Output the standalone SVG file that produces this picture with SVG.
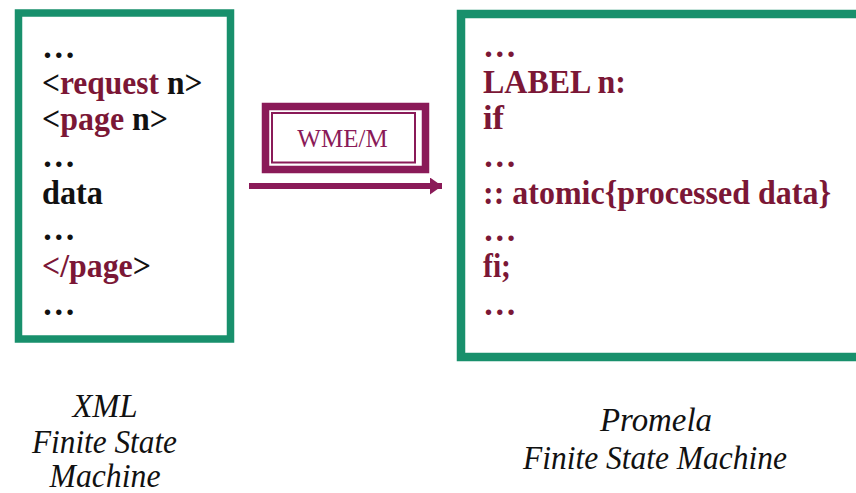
<svg xmlns="http://www.w3.org/2000/svg" width="856" height="493" viewBox="0 0 856 493">
  <defs>
    <style>
      .frame { fill: #ffffff; stroke: #18906c; }
      .code { font-family: "Liberation Serif", "Times New Roman", serif; font-weight: bold; font-size: 33.5px; fill: #111111; }
      .kw { fill: #7b1736; }
      .caption { font-family: "Liberation Serif", "Times New Roman", serif; font-style: italic; font-size: 34px; fill: #111111; text-anchor: middle; }
      .tool { fill: none; stroke: #8a1a58; }
      .toollabel { font-family: "Liberation Serif", "Times New Roman", serif; font-size: 25px; fill: #8a1a58; text-anchor: middle; }
    </style>
    <marker id="arrowhead" viewBox="0 0 12 17" refX="12" refY="8.5" markerUnits="userSpaceOnUse" markerWidth="12" markerHeight="17" orient="auto">
      <path d="M0,0 L12,8.5 L0,17 Z" fill="#8a1a58"/>
    </marker>
  </defs>

  <rect width="856" height="493" fill="#ffffff"/>

  <!-- XML state machine -->
  <g id="xml-fsm">
    <rect class="frame" x="18.5" y="13" width="212" height="326" stroke-width="7.5"/>
    <text class="code" x="42" y="58">…</text>
    <text class="code" transform="translate(42,94) scale(0.94,1)">&lt;<tspan class="kw">request</tspan> n&gt;</text>
    <text class="code" transform="translate(42,130) scale(0.953,1)">&lt;<tspan class="kw">page</tspan> n&gt;</text>
    <text class="code" x="42" y="167">…</text>
    <text class="code" x="42" y="204" textLength="61" lengthAdjust="spacingAndGlyphs">data</text>
    <text class="code" x="42" y="240">…</text>
    <text class="code" transform="translate(42,277) scale(0.952,1)"><tspan class="kw">&lt;/page</tspan>&gt;</text>
    <text class="code" x="42" y="315">…</text>
  </g>

  <!-- Promela state machine -->
  <g id="promela-fsm">
    <rect class="frame" x="461" y="14" width="420" height="343" stroke-width="8.5"/>
    <text class="code kw" x="483" y="57">…</text>
    <text class="code kw" x="483" y="93" textLength="143" lengthAdjust="spacingAndGlyphs">LABEL n:</text>
    <text class="code kw" x="483" y="129" textLength="21" lengthAdjust="spacingAndGlyphs">if</text>
    <text class="code kw" x="483" y="167">…</text>
    <text class="code kw" x="483" y="204" textLength="348" lengthAdjust="spacingAndGlyphs">:: atomic{processed data}</text>
    <text class="code kw" x="483" y="241">…</text>
    <text class="code kw" x="483" y="277" textLength="28" lengthAdjust="spacingAndGlyphs">fi;</text>
    <text class="code kw" x="483" y="315">…</text>
  </g>

  <!-- WME/M translator -->
  <g id="wme-m">
    <rect class="tool" x="265.5" y="106.5" width="160" height="63" stroke-width="7.5"/>
    <rect class="tool" x="272" y="113" width="143" height="49.5" stroke-width="2"/>
    <text class="toollabel" x="342.5" y="146.5">WME/M</text>
  </g>

  <!-- connectors -->
  <g id="connectors">
    <line x1="249" y1="186" x2="442" y2="186" stroke="#8a1a58" stroke-width="6" marker-end="url(#arrowhead)"/>
  </g>

  <!-- captions -->
  <g id="captions">
    <text class="caption" x="105" y="417" textLength="65" lengthAdjust="spacingAndGlyphs">XML</text>
    <text class="caption" x="104.5" y="453" textLength="145" lengthAdjust="spacingAndGlyphs">Finite State</text>
    <text class="caption" x="105" y="487" textLength="111" lengthAdjust="spacingAndGlyphs">Machine</text>
    <text class="caption" x="656" y="431" textLength="112" lengthAdjust="spacingAndGlyphs">Promela</text>
    <text class="caption" x="655" y="469" textLength="264" lengthAdjust="spacingAndGlyphs">Finite State Machine</text>
  </g>
</svg>
